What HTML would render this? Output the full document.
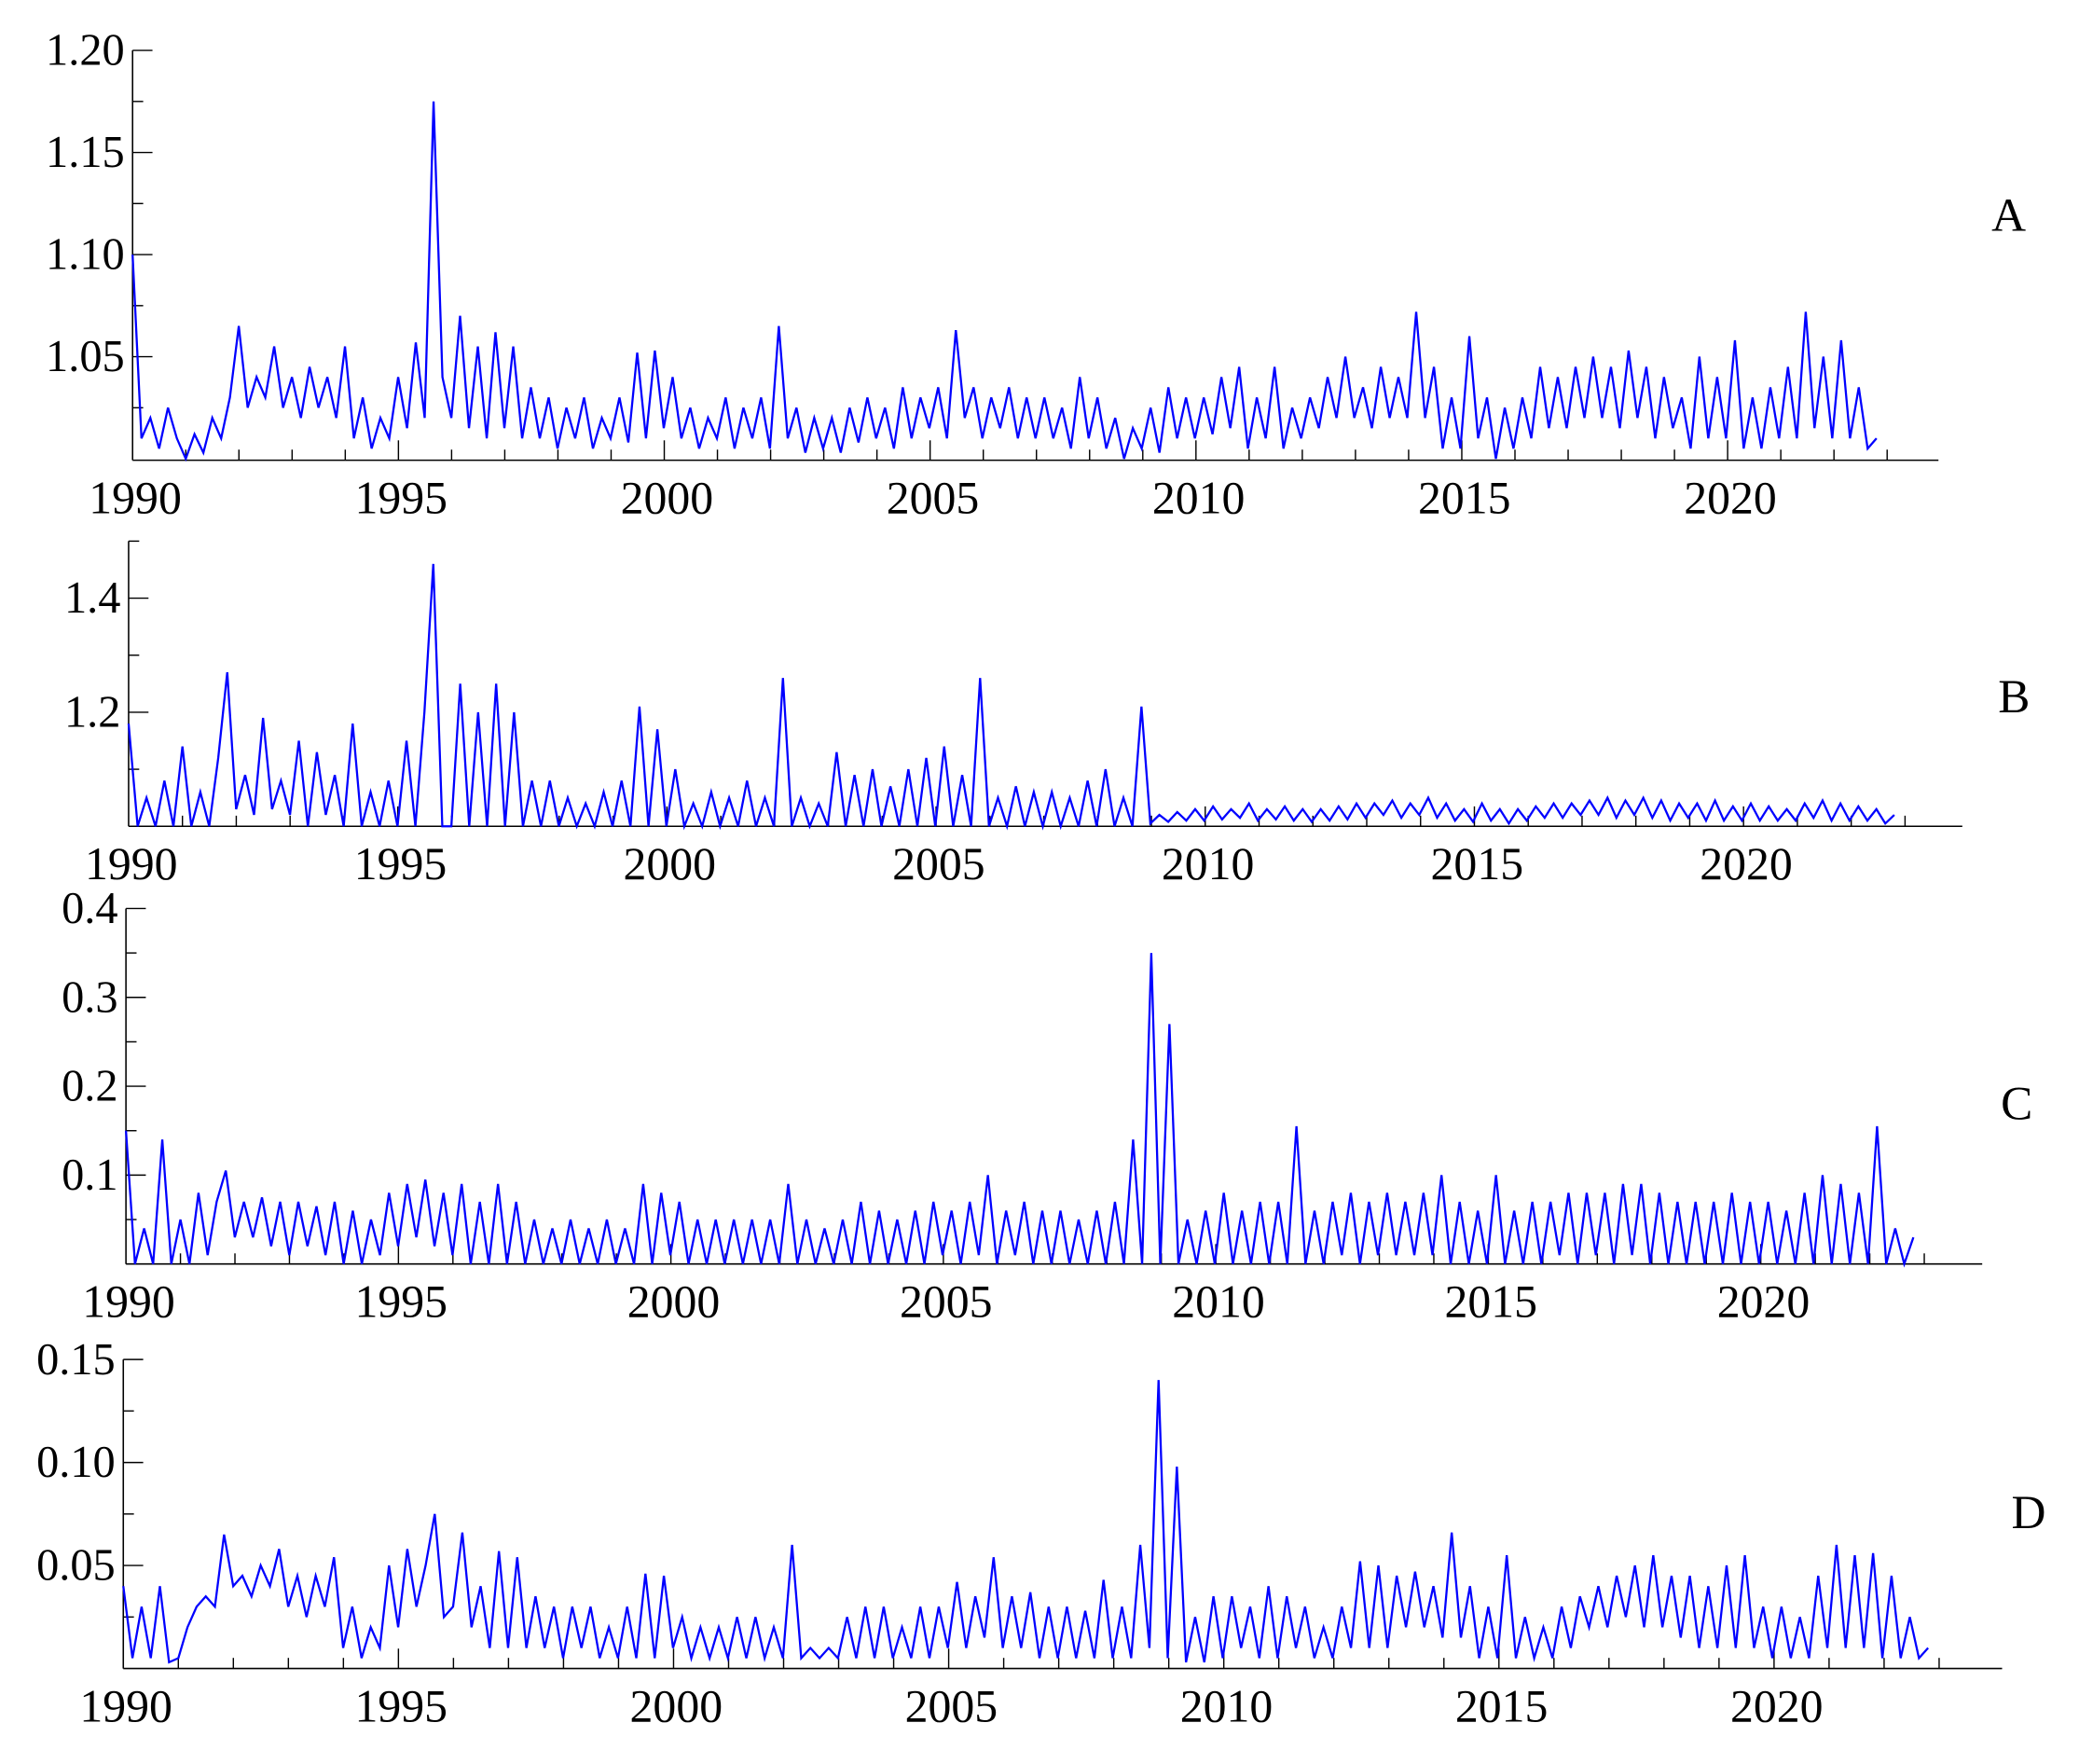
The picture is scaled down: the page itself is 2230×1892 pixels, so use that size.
<!DOCTYPE html>
<html><head><meta charset="utf-8">
<style>
html,body{margin:0;padding:0;background:#fff;}
svg{display:block;}
text{font-family:"Liberation Serif",serif;fill:#000;}
</style></head>
<body>
<svg id="chart" width="2230" height="1892" viewBox="0 0 1568 1330" preserveAspectRatio="none" xmlns="http://www.w3.org/2000/svg"></svg>
<script>
const startYear = 1990, endYear = 2022.8;
const xTickYears = [1990,1995,2000,2005,2010,2015,2020];
const seriesA = [1.10,1.01,1.02,1.005,1.025,1.01, 1.0,1.012,1.003,1.02,1.01,1.03, 1.065,1.025,1.04,1.03,1.055,1.025, 1.04,1.02,1.045,1.025,1.04,1.02, 1.055,1.01,1.03,1.005,1.02,1.01,
1.04,1.015,1.057,1.02,1.175,1.04, 1.02,1.07,1.015,1.055,1.01,1.062, 1.015,1.055,1.01,1.035,1.01,1.03, 1.005,1.025,1.01,1.03,1.005,1.02, 1.01,1.03,1.008,1.052,1.01,1.053,
1.015,1.04,1.01,1.025,1.005,1.02, 1.01,1.03,1.005,1.025,1.01,1.03, 1.005,1.065,1.01,1.025,1.003,1.02, 1.005,1.02,1.003,1.025,1.008,1.03, 1.01,1.025,1.005,1.035,1.01,1.03,
1.015,1.035,1.01,1.063,1.02,1.035, 1.01,1.03,1.015,1.035,1.01,1.03, 1.01,1.03,1.01,1.025,1.005,1.04, 1.01,1.03,1.005,1.02,1.0,1.015, 1.005,1.025,1.003,1.035,1.01,1.03,
1.01,1.03,1.012,1.04,1.015,1.045, 1.005,1.03,1.01,1.045,1.005,1.025, 1.01,1.03,1.015,1.04,1.02,1.05, 1.02,1.035,1.015,1.045,1.02,1.04, 1.02,1.072,1.02,1.045,1.005,1.03,
1.005,1.06,1.01,1.03,1.0,1.025, 1.005,1.03,1.01,1.045,1.015,1.04, 1.015,1.045,1.02,1.05,1.02,1.045, 1.015,1.053,1.02,1.045,1.01,1.04, 1.015,1.03,1.005,1.05,1.01,1.04,
1.01,1.058,1.005,1.03,1.005,1.035, 1.01,1.045,1.01,1.072,1.015,1.05, 1.01,1.058,1.01,1.035,1.005,1.01];
const seriesB = [1.18,1.0,1.05,1.0,1.08,1.0, 1.14,1.0,1.06,1.0,1.12,1.27, 1.03,1.09,1.02,1.19,1.03,1.08, 1.02,1.15,1.0,1.13,1.02,1.09, 1.0,1.18,1.0,1.06,1.0,1.08,
1.0,1.15,1.0,1.2,1.46,1.0, 1.0,1.25,1.0,1.2,1.0,1.25, 1.0,1.2,1.0,1.08,1.0,1.08, 1.0,1.05,1.0,1.04,1.0,1.06, 1.0,1.08,1.0,1.21,1.0,1.17,
1.0,1.1,1.0,1.04,1.0,1.06, 1.0,1.05,1.0,1.08,1.0,1.05, 1.0,1.26,1.0,1.05,1.0,1.04, 1.0,1.13,1.0,1.09,1.0,1.1, 1.0,1.07,1.0,1.1,1.0,1.12,
1.0,1.14,1.0,1.09,1.0,1.26, 1.0,1.05,1.0,1.07,1.0,1.06, 1.0,1.06,1.0,1.05,1.0,1.08, 1.0,1.1,1.0,1.05,1.0,1.21, 1.005,1.02,1.008,1.025,1.01,1.03,
1.01,1.035,1.012,1.03,1.015,1.04, 1.01,1.03,1.012,1.035,1.01,1.03, 1.008,1.03,1.01,1.035,1.012,1.04, 1.015,1.04,1.02,1.045,1.015,1.04, 1.02,1.05,1.015,1.04,1.01,1.03,
1.008,1.04,1.01,1.03,1.005,1.03, 1.01,1.035,1.015,1.04,1.015,1.04, 1.02,1.045,1.02,1.05,1.015,1.045, 1.02,1.05,1.015,1.045,1.01,1.04, 1.015,1.04,1.01,1.045,1.01,1.035,
1.01,1.04,1.01,1.035,1.01,1.03, 1.01,1.04,1.015,1.045,1.01,1.04, 1.01,1.035,1.01,1.03,1.005,1.02];
const seriesC = [0.15,0.0,0.04,0.0,0.14,0.0, 0.05,0.0,0.08,0.01,0.07,0.105, 0.03,0.07,0.03,0.075,0.02,0.07, 0.01,0.07,0.02,0.065,0.01,0.07, 0.0,0.06,0.0,0.05,0.01,0.08,
0.02,0.09,0.03,0.095,0.02,0.08, 0.01,0.09,0.0,0.07,0.0,0.09, 0.0,0.07,0.0,0.05,0.0,0.04, 0.0,0.05,0.0,0.04,0.0,0.05, 0.0,0.04,0.0,0.09,0.0,0.08,
0.01,0.07,0.0,0.05,0.0,0.05, 0.0,0.05,0.0,0.05,0.0,0.05, 0.0,0.09,0.0,0.05,0.0,0.04, 0.0,0.05,0.0,0.07,0.0,0.06, 0.0,0.05,0.0,0.06,0.0,0.07,
0.01,0.06,0.0,0.07,0.01,0.1, 0.0,0.06,0.01,0.07,0.0,0.06, 0.0,0.06,0.0,0.05,0.0,0.06, 0.0,0.07,0.0,0.14,0.0,0.35, 0.0,0.27,0.0,0.05,0.0,0.06,
0.0,0.08,0.0,0.06,0.0,0.07, 0.0,0.07,0.0,0.155,0.0,0.06, 0.0,0.07,0.01,0.08,0.0,0.07, 0.01,0.08,0.01,0.07,0.01,0.08, 0.01,0.1,0.0,0.07,0.0,0.06,
0.0,0.1,0.0,0.06,0.0,0.07, 0.0,0.07,0.01,0.08,0.0,0.08, 0.01,0.08,0.0,0.09,0.01,0.09, 0.0,0.08,0.0,0.07,0.0,0.07, 0.0,0.07,0.0,0.08,0.0,0.07,
0.0,0.07,0.0,0.06,0.0,0.08, 0.0,0.1,0.0,0.09,0.0,0.08, 0.0,0.155,0.0,0.04,0.0,0.03];
const seriesD = [0.04,0.005,0.03,0.005,0.04,0.003, 0.005,0.02,0.03,0.035,0.03,0.065, 0.04,0.045,0.035,0.05,0.04,0.058, 0.03,0.045,0.025,0.045,0.03,0.054, 0.01,0.03,0.005,0.02,0.01,0.05,
0.02,0.058,0.03,0.05,0.075,0.025, 0.03,0.066,0.02,0.04,0.01,0.057, 0.01,0.054,0.01,0.035,0.01,0.03, 0.005,0.03,0.01,0.03,0.005,0.02, 0.005,0.03,0.005,0.046,0.005,0.045,
0.01,0.025,0.005,0.02,0.005,0.02, 0.005,0.025,0.005,0.025,0.005,0.02, 0.005,0.06,0.005,0.01,0.005,0.01, 0.005,0.025,0.005,0.03,0.005,0.03, 0.005,0.02,0.005,0.03,0.005,0.03,
0.01,0.042,0.01,0.035,0.015,0.054, 0.01,0.035,0.01,0.037,0.005,0.03, 0.005,0.03,0.005,0.028,0.005,0.043, 0.005,0.03,0.005,0.06,0.01,0.14, 0.005,0.098,0.003,0.025,0.003,0.035,
0.005,0.035,0.01,0.03,0.005,0.04, 0.005,0.035,0.01,0.03,0.005,0.02, 0.005,0.03,0.01,0.052,0.01,0.05, 0.01,0.045,0.02,0.047,0.02,0.04, 0.015,0.066,0.015,0.04,0.005,0.03,
0.005,0.055,0.005,0.025,0.005,0.02, 0.005,0.03,0.01,0.035,0.02,0.04, 0.02,0.045,0.025,0.05,0.02,0.055, 0.02,0.045,0.015,0.045,0.01,0.04, 0.01,0.05,0.01,0.055,0.01,0.03,
0.005,0.03,0.005,0.025,0.005,0.045, 0.01,0.06,0.01,0.055,0.01,0.056, 0.005,0.045,0.005,0.025,0.005,0.01];

const ticksA = {major:[1.20,1.15,1.10,1.05], minor:[1.175,1.125,1.075,1.025], labels:["1.20","1.15","1.10","1.05"]};
const ticksB = {major:[1.4,1.2], minor:[1.5,1.3,1.1], labels:["1.4","1.2"]};
const ticksC = {major:[0.4,0.3,0.2,0.1], minor:[0.35,0.25,0.15,0.05], labels:["0.4","0.3","0.2","0.1"]};
const ticksD = {major:[0.15,0.10,0.05], minor:[0.125,0.075,0.025], labels:["0.15","0.10","0.05"]};

const NS = "http://www.w3.org/2000/svg";
const svg = document.getElementById('chart');
function mk(tag, attrs, parent){ const e=document.createElementNS(NS,tag); for(const k in attrs) e.setAttribute(k,attrs[k]); parent.appendChild(e); return e; }

function panel(name, data, ticks, g){
  const grp = mk('g',{},svg);
  
  
  const xs = y => g.x0 + (y-1990)*g.pxYear;
  const ys = v => g.yBot - (v-g.vBot)*(g.yBot-g.yTop)/(g.vTop-g.vBot);
  const yAx = mk('line',{x1:g.x0,y1:g.yTop,x2:g.x0,y2:g.yBot,stroke:'#000','stroke-width':1.1},grp);
  
  
  const xAx = mk('line',{x1:g.x0,y1:g.yBot,x2:g.xEnd,y2:g.yBot,stroke:'#000','stroke-width':1.1},grp);
  
  
  ticks.major.forEach((v,i)=>{
    mk('line',{x1:g.x0,y1:ys(v),x2:g.x0+15,y2:ys(v),stroke:'#000','stroke-width':1},grp);
    const t = mk('text',{x:g.x0-6,y:ys(v)+11,'font-size':34,'text-anchor':'end'},grp);
    t.textContent = ticks.labels[i];
    
    
  });
  ticks.minor.forEach(v=>mk('line',{x1:g.x0,y1:ys(v),x2:g.x0+8,y2:ys(v),stroke:'#000','stroke-width':1},grp));
  for(let yr=1991; yr<=2023; yr++){
    const major = yr%5===0;
    mk('line',{x1:xs(yr),y1:g.yBot,x2:xs(yr),y2:g.yBot-(major?15:8),stroke:'#000','stroke-width':1},grp);
  }
  xTickYears.forEach(yr=>{
    const t = mk('text',{x:xs(yr)+2,y:g.yBot+40,'font-size':35,'text-anchor':'middle'},grp);
    t.textContent = yr;
    
    
  });
  const n = data.length;
  const pts = data.map((v,i)=>{ const yr = startYear + i*(endYear-startYear)/(n-1); return xs(yr).toFixed(1)+','+ys(v).toFixed(1); });
  const line = mk('polyline',{points:pts.join(' '),fill:'none',stroke:'#0000ff','stroke-width':1.6,'stroke-linejoin':'miter'},grp);
  
  
  const lab = mk('text',{x:g.labX,y:g.labY,'font-size':36,'text-anchor':'middle'},grp);
  lab.textContent = name;
  
  
}

panel('A', seriesA, ticksA, {x0:100,pxYear:40.1,xEnd:1462,yTop:38,yBot:347,vTop:1.20,vBot:0.9993,labX:1515,labY:174});
panel('B', seriesB, ticksB, {x0:97,pxYear:40.6,xEnd:1480,yTop:408,yBot:623,vTop:1.5,vBot:1.0,labX:1519,labY:537});
panel('C', seriesC, ticksC, {x0:95,pxYear:41.1,xEnd:1495,yTop:685,yBot:953,vTop:0.4,vBot:0.0,labX:1521,labY:844});
panel('D', seriesD, ticksD, {x0:93,pxYear:41.5,xEnd:1510,yTop:1025,yBot:1258,vTop:0.15,vBot:0.0,labX:1530,labY:1152});
</script>
</body></html>
